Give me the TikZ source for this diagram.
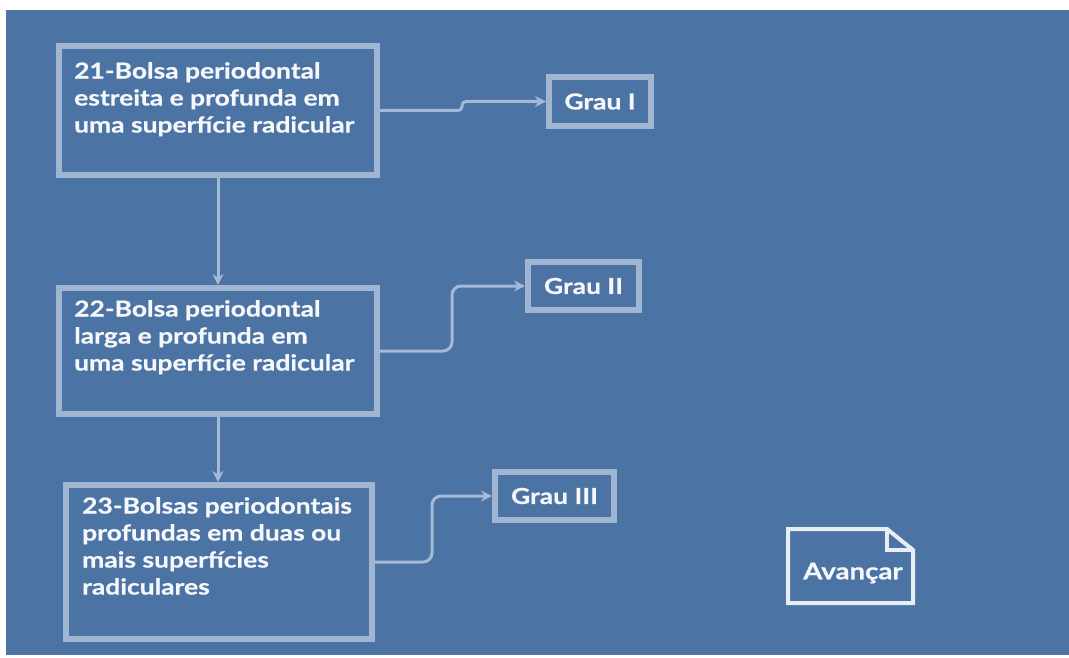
\documentclass[tikz,border=0pt]{standalone}
\usepackage{fontspec}
\setmainfont{Lato}[FakeStretch=1.2,BoldFeatures={FakeStretch=1.2,FakeBold=0.6}]
\usetikzlibrary{arrows.meta}
\definecolor{panel}{HTML}{4B73A4}
\definecolor{frame}{HTML}{9FB5D2}
\definecolor{wire}{HTML}{A3B9D6}
\definecolor{ink}{HTML}{F5F7FA}
\definecolor{paper}{HTML}{E8EEF5}
\begin{document}
\begin{tikzpicture}[x=1pt,y=-1pt,
  stepbox/.style={draw=frame,line width=6pt,rectangle,inner sep=0pt},
  steptext/.style={anchor=north west,inner sep=0pt,text=ink,align=left,
    font=\fontsize{22}{27}\selectfont\bfseries},
  gradebox/.style={draw=frame,line width=6pt,rectangle,inner sep=0pt,text=ink,
    font=\fontsize{22}{24}\selectfont\bfseries},
  link/.style={draw=wire,line width=3pt,-{Stealth[length=11pt,width=11pt]}}]
\useasboundingbox (0,0) rectangle (1069,658);
\fill[panel] (6,10) rectangle (1069,655);

% main steps
\node[stepbox,minimum width=318pt,minimum height=129pt] (b1) at (218,110.5) {};
\node[stepbox,minimum width=318pt,minimum height=126pt] (b2) at (218,351) {};
\node[stepbox,minimum width=306pt,minimum height=154pt] (b3) at (219,562) {};
\node[steptext] (t1) at (74,62) {21-Bolsa periodontal\\estreita e profunda em\\uma superfície radicular};
\node[steptext] (t2) at (74,300) {22-Bolsa periodontal\\larga e profunda em\\uma superfície radicular};
\node[steptext] (t3) at (82,497) {23-Bolsas periodontais\\profundas em duas ou\\mais superfícies\\radiculares};

% grades
\node[gradebox,minimum width=102pt,minimum height=49pt] (g1) at (600,101.5) {Grau I};
\node[gradebox,minimum width=111pt,minimum height=48pt] (g2) at (583.5,286) {Grau II};
\node[gradebox,minimum width=119pt,minimum height=48pt] (g3) at (554.5,496) {Grau III};

% connectors
\draw[link] (b1.south) -- (b2.north);
\draw[link] (b2.south) -- (b2.south |- b3.north);
\draw[link,rounded corners=4pt] (b1.east) -- (462,110.5) -- (462,101.5) -- (g1.west);
\draw[link,rounded corners=9pt] (b2.east) -- (452,351) -- (452,286) -- (g2.west);
\draw[link,rounded corners=9pt] (b3.east) -- (432,562) -- (432,496) -- (g3.west);

% next-page button
\draw[paper,line width=4pt,line join=miter]
  (788,529) -- (887,529) -- (913,550) -- (913,603) -- (788,603) -- cycle;
\draw[paper,line width=4pt] (887,529) -- (887,550) -- (913,550);
\node[text=ink,font=\fontsize{23}{26}\selectfont\bfseries,inner sep=0pt] (av) at (853,573) {Avançar};
\end{tikzpicture}
\end{document}
